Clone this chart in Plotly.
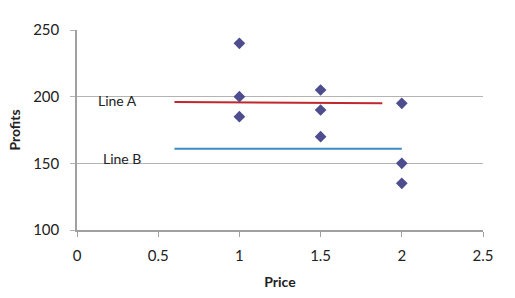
import plotly.graph_objects as go

price = [1, 1, 1, 1.5, 1.5, 1.5, 2, 2, 2]
profits = [240, 200, 185, 205, 190, 170, 195, 150, 135]

line_a_x = [0.6, 1.88]
line_a_y = [196, 195]
line_b_x = [0.6, 2.0]
line_b_y = [161, 161]

labels = ["Line A", "Line B"]
label_x = [0.25, 0.28]
label_y = [197, 154]

x_ticks = [0, 0.5, 1, 1.5, 2, 2.5]
y_ticks = [100, 150, 200, 250]

FONT = "Lato, Open Sans, sans-serif"

fig = go.Figure()
fig.add_trace(go.Scatter(x=line_a_x, y=line_a_y, mode="lines",
                         line=dict(color="#C0282D", width=2), showlegend=False))
fig.add_trace(go.Scatter(x=line_b_x, y=line_b_y, mode="lines",
                         line=dict(color="#3B8DC6", width=2), showlegend=False))
fig.add_trace(go.Scatter(x=price, y=profits, mode="markers",
                         marker=dict(symbol="diamond", size=9, color="#4E4E8E"),
                         showlegend=False))
for t, xx, yy in zip(labels, label_x, label_y):
    fig.add_annotation(x=xx, y=yy, text=t, showarrow=False,
                       font=dict(family=FONT, size=14, color="#222"))

fig.update_layout(
    width=515, height=298,
    margin=dict(l=77, r=32, t=30, b=68),
    paper_bgcolor="white", plot_bgcolor="white",
    font=dict(family=FONT, size=15, color="#222"),
)
fig.update_xaxes(range=[0, 2.5], tickvals=x_ticks, ticktext=[str(v) for v in x_ticks],
                 showgrid=False, zeroline=False, showline=True, linecolor="#A0A0A0",
                 linewidth=1.5, ticks="outside", ticklen=5, tickcolor="#A0A0A0",
                 ticklabelstandoff=6, automargin=False,
                 title=dict(text="<b>Price</b>", font=dict(size=14), standoff=14))
fig.update_yaxes(range=[100, 250], tickvals=y_ticks,
                 showgrid=True, gridcolor="#B4B4B4", gridwidth=1.2,
                 zeroline=False, showline=True, linecolor="#A0A0A0", linewidth=1.5,
                 ticks="outside", ticklen=5, tickcolor="#B4B4B4",
                 ticklabelstandoff=8, automargin=False,
                 title=dict(text="<b>Profits</b>", font=dict(size=14), standoff=9))

fig.write_html("out.html")
